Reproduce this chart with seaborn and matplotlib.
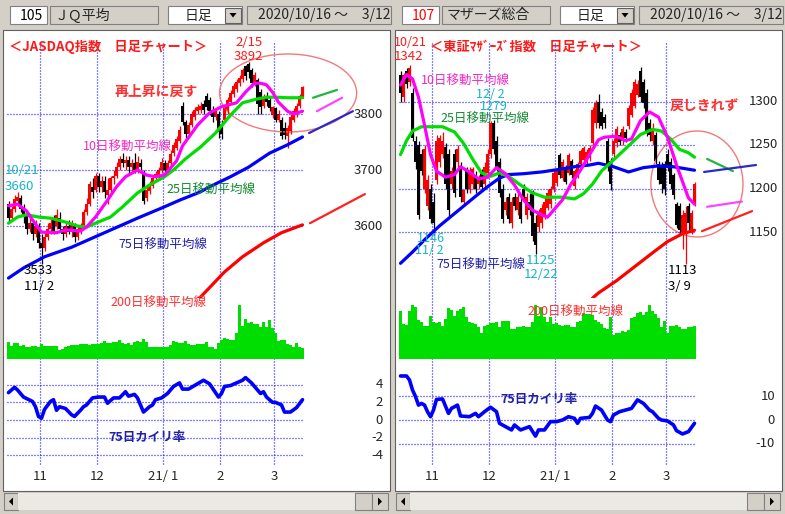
import numpy as np
import matplotlib
matplotlib.use("Agg")
import matplotlib.pyplot as plt
import seaborn as sns
from matplotlib.patches import Rectangle, Ellipse, Polygon

# ===================== data =====================
days = list(range(99))
month_starts = [11, 30, 52, 71, 89]
month_labels = ["11", "12", "21/ 1", "2", "3"]

# ---- JASDAQ index (left) ----
jq_open = [3640,3615,3630,3645,3650,3630,3620,3595,3605,3585,
           3600,3570,3560,3580,3595,3610,3600,3615,3595,3585,
           3600,3590,3600,3580,3590,3600,3625,3640,3670,3665,
           3690,3670,3680,3655,3665,3685,3690,3705,3720,3712,
           3718,3705,3712,3700,3712,3695,3650,3662,3672,3685,
           3690,3700,3712,3700,3712,3730,3740,3752,3815,3785,
           3765,3780,3795,3805,3808,3818,3832,3825,3808,3795,
           3800,3775,3790,3805,3822,3835,3845,3855,3862,3885,
           3890,3878,3855,3860,3840,3815,3832,3825,3798,3810,
           3790,3790,3775,3760,3770,3790,3800,3815,3830]
jq_high = [3645,3635,3655,3660,3655,3640,3625,3615,3610,3610,
           3605,3585,3590,3605,3615,3620,3630,3625,3600,3605,
           3610,3610,3605,3600,3605,3630,3650,3680,3685,3695,
           3695,3690,3690,3685,3690,3700,3715,3725,3730,3725,
           3725,3720,3730,3725,3720,3700,3672,3680,3690,3698,
           3705,3722,3718,3718,3735,3750,3760,3778,3822,3790,
           3785,3805,3812,3818,3822,3825,3838,3830,3815,3810,
           3805,3790,3815,3830,3842,3855,3862,3870,3882,3888,
           3892,3882,3875,3865,3845,3835,3840,3830,3815,3812,
           3808,3795,3785,3780,3800,3810,3820,3835,3850]
jq_low = [3605,3610,3625,3635,3625,3605,3585,3590,3575,3580,
          3560,3533,3555,3575,3585,3585,3595,3590,3575,3580,
          3585,3580,3572,3575,3585,3595,3620,3635,3650,3660,
          3660,3660,3650,3640,3660,3675,3685,3700,3705,3700,
          3695,3698,3695,3695,3700,3640,3645,3658,3668,3680,
          3685,3695,3695,3695,3708,3725,3735,3748,3780,3758,
          3760,3776,3790,3800,3802,3800,3808,3798,3785,3790,
          3758,3755,3785,3800,3818,3830,3840,3850,3858,3860,
          3865,3848,3850,3800,3800,3810,3815,3805,3792,3785,
          3785,3755,3755,3739,3765,3785,3795,3810,3828]
jq_close = [3615,3630,3648,3652,3630,3620,3595,3605,3585,3600,
            3570,3560,3580,3595,3605,3590,3620,3595,3585,3600,
            3590,3605,3580,3595,3600,3625,3640,3675,3660,3690,
            3670,3680,3660,3665,3685,3690,3705,3720,3712,3718,
            3705,3712,3700,3715,3705,3645,3665,3675,3685,3692,
            3700,3715,3700,3712,3728,3745,3755,3772,3785,3765,
            3780,3800,3808,3812,3815,3808,3812,3805,3795,3805,
            3768,3765,3810,3825,3838,3850,3858,3865,3878,3868,
            3875,3855,3870,3818,3812,3830,3822,3810,3812,3790,
            3800,3760,3762,3775,3795,3805,3815,3832,3848]
jq_volume = [50,40,47,47,40,42,37,37,40,40,
             37,45,40,40,40,40,40,27,30,37,
             39,42,42,42,44,44,45,42,44,45,
             45,49,54,49,47,50,52,57,47,44,
             49,42,52,54,52,59,50,37,35,37,
             35,37,35,37,42,54,50,47,47,54,
             44,42,42,44,44,44,50,35,35,30,
             47,57,64,60,57,57,79,162,100,120,
             107,110,104,104,97,110,97,117,92,77,
             55,57,57,45,42,35,47,37,34]
jq_ma10_days = [0,3,6,8,11,16,19,24,26,29,33,36,39,43,46,49,52,56,58,63,67,71,76,79,82,84,86,88,90,93,95,98]
jq_ma10 = [3636,3639,3627,3611,3589,3588,3593,3591,3598,3616,3646,3670,3688,3700,3691,3688,3691,3716,3743,3780,3802,3813,3820,3839,3855,3855,3852,3839,3821,3805,3800,3805]
jq_ma25_days = [0,3,6,10,14,19,23,26,29,34,38,43,47,52,55,59,64,69,74,78,83,86,89,93,98]
jq_ma25 = [3605,3616,3620,3616,3614,3607,3600,3598,3605,3616,3634,3659,3673,3688,3700,3720,3741,3766,3798,3820,3827,3830,3830,3829,3829]
jq_ma75_days = [0,5,12,21,32,43,51,57,64,67,74,80,87,93,98]
jq_ma75 = [3507,3525,3545,3562,3588,3614,3632,3646,3661,3670,3688,3705,3730,3745,3759]
jq_ma200_days = [62,64,72,78,85,91,98]
jq_ma200 = [3466,3473,3518,3545,3570,3588,3602]
jq_dev_days = [0,2,3,5,8,9,10,11,12,14,15,16,17,19,21,22,24,25,26,28,30,32,33,35,37,39,40,42,43,45,
               47,48,49,51,53,55,57,58,60,62,64,65,67,68,70,71,72,74,76,78,79,80,81,83,84,85,86,88,89,91,
               92,94,96,98]
jq_dev = [3.1,3.7,3.4,2.6,2.1,1.5,0.4,0.2,1.2,2.1,2.3,1.1,1.5,1.3,0.6,0.4,1.1,1.5,1.7,2.5,
          2.6,2.6,1.9,2.5,2.5,3.2,2.7,2.9,2.5,0.9,1.5,1.7,2.3,2.5,3.0,3.8,4.2,3.5,3.5,3.9,
          4.3,4.5,4.1,3.6,2.6,3.0,3.8,3.9,4.2,4.5,4.8,4.5,4.2,3.4,3.0,3.2,2.6,2.0,2.0,1.7,
          0.9,0.9,1.4,2.3]
jq_proj_days = [[101.5, 109.5], [102.8, 111.2], [100.2, 114.8], [100.5, 118.8]]
jq_proj_vals = [[3829, 3843], [3805, 3829], [3766, 3805], [3605, 3657]]
jq_price_ticks = [3800, 3700, 3600]
jq_dev_ticks = [4, 2, 0, -2, -4]

# ---- Mothers index (right) ----
mz_open = [1330,1305,1335,1322,1310,1255,1250,1240,1200,1180,
           1200,1185,1210,1230,1240,1248,1240,1205,1240,1230,
           1225,1185,1220,1200,1205,1215,1205,1220,1205,1218,
           1240,1275,1255,1230,1200,1175,1190,1160,1190,1175,
           1185,1200,1170,1185,1195,1160,1156,1160,1170,1178,
           1182,1200,1206,1238,1212,1225,1218,1232,1203,1214,
           1228,1233,1230,1235,1252,1275,1300,1288,1282,1255,
           1232,1240,1252,1262,1255,1265,1272,1285,1295,1308,
           1335,1322,1310,1275,1255,1262,1228,1225,1228,1240,
           1230,1215,1182,1180,1150,1150,1180,1152,1182]
mz_high = [1335,1333,1338,1342,1315,1260,1255,1245,1250,1215,
           1205,1195,1262,1262,1265,1252,1245,1225,1245,1250,
           1230,1200,1225,1225,1225,1220,1215,1222,1230,1245,
           1278,1279,1260,1235,1205,1190,1195,1190,1195,1195,
           1190,1205,1195,1195,1198,1170,1176,1182,1190,1200,
           1203,1222,1222,1241,1234,1227,1241,1234,1222,1230,
           1245,1249,1245,1250,1294,1302,1309,1292,1286,1258,
           1235,1258,1272,1265,1272,1268,1296,1314,1326,1325,
           1340,1326,1314,1280,1275,1265,1232,1230,1232,1245,
           1235,1218,1185,1183,1175,1180,1183,1175,1208]
mz_low = [1300,1300,1315,1318,1255,1222,1165,1215,1195,1175,
          1160,1146,1205,1225,1235,1200,1167,1200,1190,1225,
          1185,1180,1195,1195,1200,1195,1200,1198,1200,1212,
          1235,1240,1220,1190,1160,1170,1160,1155,1175,1170,
          1160,1185,1165,1170,1140,1125,1150,1155,1165,1175,
          1178,1196,1203,1212,1209,1205,1215,1212,1200,1212,
          1226,1230,1228,1232,1250,1270,1270,1268,1270,1220,
          1198,1236,1248,1250,1250,1254,1268,1282,1292,1305,
          1300,1292,1260,1255,1250,1228,1205,1195,1192,1220,
          1200,1188,1155,1148,1130,1113,1152,1148,1180]
mz_close = [1310,1330,1320,1338,1258,1230,1170,1220,1245,1210,
            1165,1160,1255,1258,1255,1205,1175,1220,1195,1245,
            1190,1198,1200,1220,1222,1200,1212,1202,1225,1240,
            1275,1245,1225,1195,1165,1185,1165,1185,1180,1190,
            1165,1190,1190,1175,1145,1135,1172,1178,1185,1195,
            1200,1218,1220,1215,1230,1208,1238,1215,1220,1228,
            1243,1246,1242,1246,1290,1298,1275,1272,1275,1225,
            1205,1255,1268,1254,1268,1258,1292,1310,1322,1320,
            1305,1298,1265,1262,1270,1232,1210,1205,1200,1225,
            1205,1192,1158,1152,1170,1172,1160,1172,1205]
mz_volume = [144,105,102,144,162,157,117,110,99,99,
             129,110,109,112,100,119,152,147,130,145,
             150,155,125,110,107,104,95,79,100,102,
             109,107,110,95,114,114,114,90,89,95,
             95,99,97,95,110,162,129,155,125,112,
             127,105,109,102,99,102,102,97,96,112,
             114,139,135,134,132,117,112,105,94,89,
             127,72,77,79,85,82,87,122,125,139,
             142,132,142,162,145,134,122,95,115,77,
             99,99,102,95,90,90,97,95,99]
mz_ma10_days = [0,2,4,6,8,10,12,15,18,20,23,26,29,32,35,38,41,44,47,49,51,54,57,60,63,66,68,72,75,77,80,83,86,89,92,94,96,98]
mz_ma10 = [1319,1331,1326,1305,1273,1239,1220,1213,1216,1225,1219,1211,1213,1224,1217,1204,1187,1175,1170,1167,1175,1187,1206,1221,1239,1256,1259,1260,1255,1257,1278,1288,1282,1259,1227,1208,1189,1182]
mz_ma25_days = [0,2,4,7,11,14,18,21,24,27,30,33,36,40,44,48,54,58,61,64,67,72,76,80,84,87,90,93,96,98]
mz_ma25 = [1239,1255,1266,1271,1271,1271,1265,1252,1234,1218,1214,1218,1214,1204,1195,1190,1190,1188,1194,1205,1220,1236,1249,1262,1268,1266,1257,1245,1241,1236]
mz_ma75_days = [0,4,8,13,19,25,29,33,36,41,47,53,58,63,66,71,76,81,86,91,98]
mz_ma75 = [1114,1127,1141,1157,1174,1191,1202,1212,1216,1217,1219,1222,1225,1227,1229,1225,1219,1224,1226,1225,1221]
mz_ma200_days = [64,66,72,78,84,89,94,98]
mz_ma200 = [1074,1080,1094,1110,1126,1139,1148,1152]
mz_dev_days = [0,2,3,4,5,6,7,8,9,10,11,12,14,16,17,19,20,23,25,26,28,30,32,33,35,37,38,40,43,45,
               46,48,50,52,54,56,58,59,60,63,64,65,67,69,70,71,73,75,77,79,81,83,84,86,87,89,91,92,94,96,98]
mz_dev = [18.6,18.6,16.9,12.7,9.9,6.3,7.0,6.3,3.5,1.4,4.2,8.7,8.9,2.8,4.9,6.3,1.7,1.4,2.8,1.4,
          3.5,5.4,3.5,-1.4,-2.8,-4.2,-2.1,-4.2,-2.8,-6.8,-4.2,-4.2,-0.7,-0.7,0.0,1.4,0.7,-1.4,0.7,1.1,
          2.8,5.9,4.2,0.0,-0.7,2.1,3.5,4.2,4.9,8.5,7.0,4.2,3.5,0.7,0.0,-0.4,-2.1,-4.5,-5.9,-4.9,-1.4]
mz_proj_days = [[102.2, 110.8], [102.2, 113.8], [101.2, 118.5], [100.5, 117.2]]
mz_proj_vals = [[1234, 1220], [1179, 1185], [1219, 1227], [1151, 1174]]
mz_price_ticks = [1300, 1250, 1200, 1150]
mz_dev_ticks = [10, 0, -10]

# ===================== style =====================
sns.set_theme(style="white")
plt.rcParams["font.family"] = ["Noto Sans CJK JP", "DejaVu Sans"]
plt.rcParams["axes.unicode_minus"] = False

W, H = 785, 514
GRAY = "#d4d0c8"
GRID = "#0000ff"
DOT = (0, (0.8, 1.6))
XLIM = (-1.5, 126.5)

fig = plt.figure(figsize=(W / 100, H / 100), dpi=100)
fig.patch.set_facecolor(GRAY)


def px_axes(x0, y0, x1, y1, z=2):
    ax = fig.add_axes([x0 / W, 1 - y1 / H, (x1 - x0) / W, (y1 - y0) / H], zorder=z)
    ax.set_facecolor("none")
    ax.axis("off")
    return ax


bg = px_axes(0, 0, W, H, z=0)
bg.set_xlim(0, W)
bg.set_ylim(H, 0)

top = px_axes(0, 0, W, H, z=6)
top.set_xlim(0, W)
top.set_ylim(H, 0)


def T(x, y, s, color="black", size=9, weight="normal", ha="left"):
    top.text(x, y, s, color=color, fontsize=size, fontweight=weight, ha=ha, va="center")


def box(x0, y0, x1, y1, fc, ec="#808080"):
    r = Rectangle((x0, y0), x1 - x0, y1 - y0, fc=fc, ec=ec, lw=0.8)
    bg.add_patch(r)
    return r


def header(ox, code, code_color, name):
    box(ox + 10, 6, ox + 47, 24, "white")
    bg.text(ox + 43, 15.5, code, color=code_color, fontsize=10, ha="right", va="center")
    box(ox + 50, 6, ox + 158, 24, GRAY)
    bg.text(ox + 55, 15.5, name, fontsize=10, ha="left", va="center")
    box(ox + 168, 6, ox + 242, 24, "white")
    bg.text(ox + 185, 15.5, "日足", fontsize=10, ha="left", va="center")
    box(ox + 225, 7.5, ox + 241, 23, GRAY, ec="#606060")
    bg.add_patch(Polygon([(ox + 229.5, 13), (ox + 236.5, 13), (ox + 233, 17.5)], closed=True, fc="black", ec="none"))
    r = box(ox + 247, 6, ox + 391, 24, GRAY)
    t = bg.text(ox + 258, 15.5, "2020/10/16 ～　3/12", fontsize=10, ha="left", va="center")
    t.set_clip_path(r)
    # chart white area
    bg.add_patch(Rectangle((ox + 3, 30), 387, 461, fc="white", ec="#606060", lw=0.8))
    # scrollbar
    box(ox + 4, 493, ox + 18, 510, GRAY)
    bg.add_patch(Polygon([(ox + 13, 497.5), (ox + 13, 505.5), (ox + 9, 501.5)], closed=True, fc="black", ec="none"))
    box(ox + 18, 493, ox + 355, 510, "#ebe9e4", ec="none")
    box(ox + 355, 493, ox + 372, 510, GRAY)
    box(ox + 372, 493, ox + 388, 510, GRAY)
    bg.add_patch(Polygon([(ox + 378, 497.5), (ox + 378, 505.5), (ox + 382, 501.5)], closed=True, fc="black", ec="none"))


def panel(ox, o, h, l, c, vol, mas, dev_days, dev, proj_days, proj_vals,
          price_ticks, dev_ticks, p_anchor, d_scale, ptick_x, ell):
    x0, x1 = ox + 4, ox + 388
    # grid / month frame
    fr = px_axes(x0, 31, x1, 490, z=1)
    fr.vlines([m - 0.5 for m in month_starts], 43, 466, colors=GRID, lw=0.9, linestyles=DOT)
    for m, lab in zip(month_starts, month_labels):
        fr.text(m - 0.5, 477, lab, ha="center", va="center", fontsize=9.5)
    fr.set_xlim(XLIM)
    fr.set_ylim(490, 31)

    # price area
    pv, py, ps = p_anchor
    ap = px_axes(x0, 32, x1, 298, z=2)
    ap.hlines(price_ticks, -0.5, 98.5, colors=GRID, lw=0.9, linestyles=DOT)
    o, h, l, c = map(np.asarray, (o, h, l, c))
    cols = np.where(c >= o, "#ff0000", "#000000")
    ap.vlines(days, l, h, colors=cols, lw=0.9)
    ap.bar(days, np.maximum(np.abs(c - o), 1e-9), bottom=np.minimum(o, c), width=0.7,
           color=cols, linewidth=0)
    ma_cols = ["#ff0000", "#0000ff", "#00dd00", "#ff00ff"]
    for (md, mv), col in zip(mas, ma_cols):
        sns.lineplot(x=md, y=mv, ax=ap, color=col, lw=2.3)
    pcols = ["#22b43c", "#ff44ff", "#2a2ac8", "#ff2020"]
    for pdx, pvl, col in zip(proj_days, proj_vals, pcols):
        ap.plot(pdx, pvl, color=col, lw=1.6)
    ap.add_patch(Ellipse(ell[0], ell[1], ell[2], fill=False, ec="#f07a7a", lw=1.0))
    ap.set_xlim(XLIM)
    ap.set_ylim(pv + (py - 298) / ps, pv + (py - 32) / ps)
    tr = ap.get_yaxis_transform()
    for v in price_ticks:
        ap.text(ptick_x, v, str(v), transform=tr, ha="center", va="center", fontsize=9.5)

    # volume
    av = px_axes(x0, 300, x1, 359, z=2)
    sns.barplot(x=days, y=vol, native_scale=True, ax=av, color="#00dd00", saturation=1,
                width=0.67, errorbar=None, linewidth=0)
    av.set_xlim(XLIM)
    av.set_ylim(0, 177)
    av.axis("off")

    # deviation
    ad = px_axes(x0, 372, x1, 470, z=2)
    ad.hlines(dev_ticks, -0.5, 98.5, colors=GRID, lw=0.9, linestyles=DOT)
    sns.lineplot(x=dev_days, y=dev, ax=ad, color="#0000ff", lw=2.6)
    ad.set_xlim(XLIM)
    ad.set_ylim((420 - 470) / d_scale, (420 - 372) / d_scale)
    trd = ad.get_yaxis_transform()
    for v in dev_ticks:
        ad.text(0.987, v, str(v), transform=trd, ha="right", va="center", fontsize=9.5)


header(0, "105", "black", "ＪＱ平均")
header(392, "107", "#ff0000", "マザーズ総合")

panel(0, jq_open, jq_high, jq_low, jq_close, jq_volume,
      [(jq_ma200_days, jq_ma200), (jq_ma75_days, jq_ma75), (jq_ma25_days, jq_ma25), (jq_ma10_days, jq_ma10)],
      jq_dev_days, jq_dev, jq_proj_days, jq_proj_vals, jq_price_ticks, jq_dev_ticks,
      (3600, 226, 0.56), 8.83, 0.949, ((93.2, 3837.5), 45.7, 139.3))

panel(392, mz_open, mz_high, mz_low, mz_close, mz_volume,
      [(mz_ma200_days, mz_ma200), (mz_ma75_days, mz_ma75), (mz_ma25_days, mz_ma25), (mz_ma10_days, mz_ma10)],
      mz_dev_days, mz_dev, mz_proj_days, mz_proj_vals, mz_price_ticks, mz_dev_ticks,
      (1150, 232, 0.87), 2.367, 0.958, ((98.8, 1205.2), 30.7, 121.8))

# ---------- annotations ----------
RED = "#ff1a1a"
CYAN = "#18b4c8"
MAG = "#f028c8"
DGREEN = "#108a30"
DBLUE = "#2020a8"

# left
T(9, 47, "＜JASDAQ指数　日足チャート＞", RED, 9.5, "bold")
T(249, 42, "2/15", RED, 9.5, ha="center")
T(248, 56, "3892", RED, 9.5, ha="center")
T(115, 92, "再上昇に戻す", "#ff3030", 10, "bold")
T(83, 147, "10日移動平均線", MAG, 9)
T(5, 171, "10/21", CYAN, 9.5)
T(5, 186, "3660", CYAN, 9.5)
T(166, 190, "25日移動平均線", DGREEN, 9)
T(118, 245, "75日移動平均線", DBLUE, 9)
T(38, 271, "3533", "black", 9.5, ha="center")
T(39, 287, "11/ 2", "black", 9.5, ha="center")
T(110, 303, "200日移動平均線", "#ff3030", 9)
T(108, 437, "75日カイリ率", DBLUE, 9, "bold")

# right
T(394, 43, "10/21", RED, 9)
T(394, 57, "1342", RED, 9.5)
T(430, 47, "＜東証ﾏｻﾞｰｽﾞ指数　日足チャート＞", RED, 9.5, "bold")
T(421, 81, "10日移動平均線", MAG, 9)
T(476, 94, "12/ 2", CYAN, 9)
T(480, 106, "1279", CYAN, 9)
T(440, 119, "25日移動平均線", DGREEN, 9)
T(417, 238, "1146", CYAN, 9)
T(415, 251, "11/ 2", CYAN, 9)
T(436, 265, "75日移動平均線", DBLUE, 9)
T(526, 260, "1125", CYAN, 9.5)
T(524, 275, "12/22", CYAN, 9.5)
T(670, 107, "戻しきれず", "#ff3030", 10, "bold")
T(668, 270, "1113", "black", 9.5)
T(668, 286, "3/ 9", "black", 9.5)
T(527, 312, "200日移動平均線", "#ff3030", 9)
T(500, 399, "75日カイリ率", DBLUE, 9, "bold")

fig.savefig("out.png", dpi=100, facecolor=fig.get_facecolor())
